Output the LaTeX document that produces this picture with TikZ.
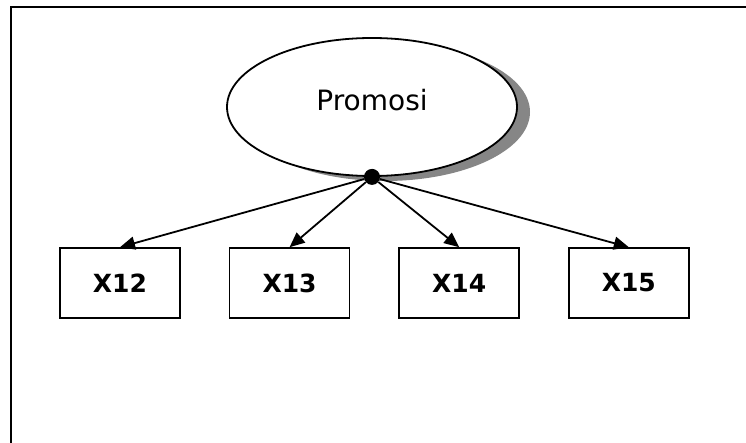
\documentclass[tikz,border=0pt]{standalone}
\usepackage{fontspec}
\setmainfont{DejaVu Sans}
\usetikzlibrary{arrows.meta,positioning,shadows,shapes.geometric}

\begin{document}
\begin{tikzpicture}[x=1pt, y=-1pt,
        latent/.style={ellipse, draw, line width=1.8pt, fill=white,
                       minimum width=290pt, minimum height=138pt,
                       text depth=14pt,
                       font=\fontsize{28}{30}\selectfont,
                       drop shadow={shadow xshift=13pt, shadow yshift=-5pt,
                                    fill=gray!95, opacity=1}},
        indik/.style={rectangle, draw, line width=1.6pt, minimum width=120pt,
                      minimum height=70pt, font=\bfseries\fontsize{25}{28}\selectfont},
        arr/.style={-{Triangle[length=15pt, width=13pt]}, line width=1.8pt}]
    \useasboundingbox (0,0) rectangle (746,443);
    % frame, only top and left sides show
    \coordinate (fb) at (11,443);
    \coordinate (fc) at (11,7);
    \coordinate (fr) at (746,7);
    \draw[line width=2.4pt] (fb) -- (fc) -- (fr);
    \node[latent] (prom) at (372,107) {Promosi};
    \node[circle, fill, inner sep=0pt, minimum size=16pt] (hub) at (prom.south) {};
    \node[indik] (x12) at (120,283) {X12};
    \node[indik, right=48pt of x12] (x13) {X13};
    \node[indik, right=48pt of x13] (x14) {X14};
    \node[indik, right=48pt of x14] (x15) {X15};
    \draw[arr] (hub) -- (x12.north);
    \draw[arr] (hub) -- (x13.north);
    \draw[arr] (hub) -- (x14.north);
    \draw[arr] (hub) -- (x15.north);
\end{tikzpicture}
\end{document}
